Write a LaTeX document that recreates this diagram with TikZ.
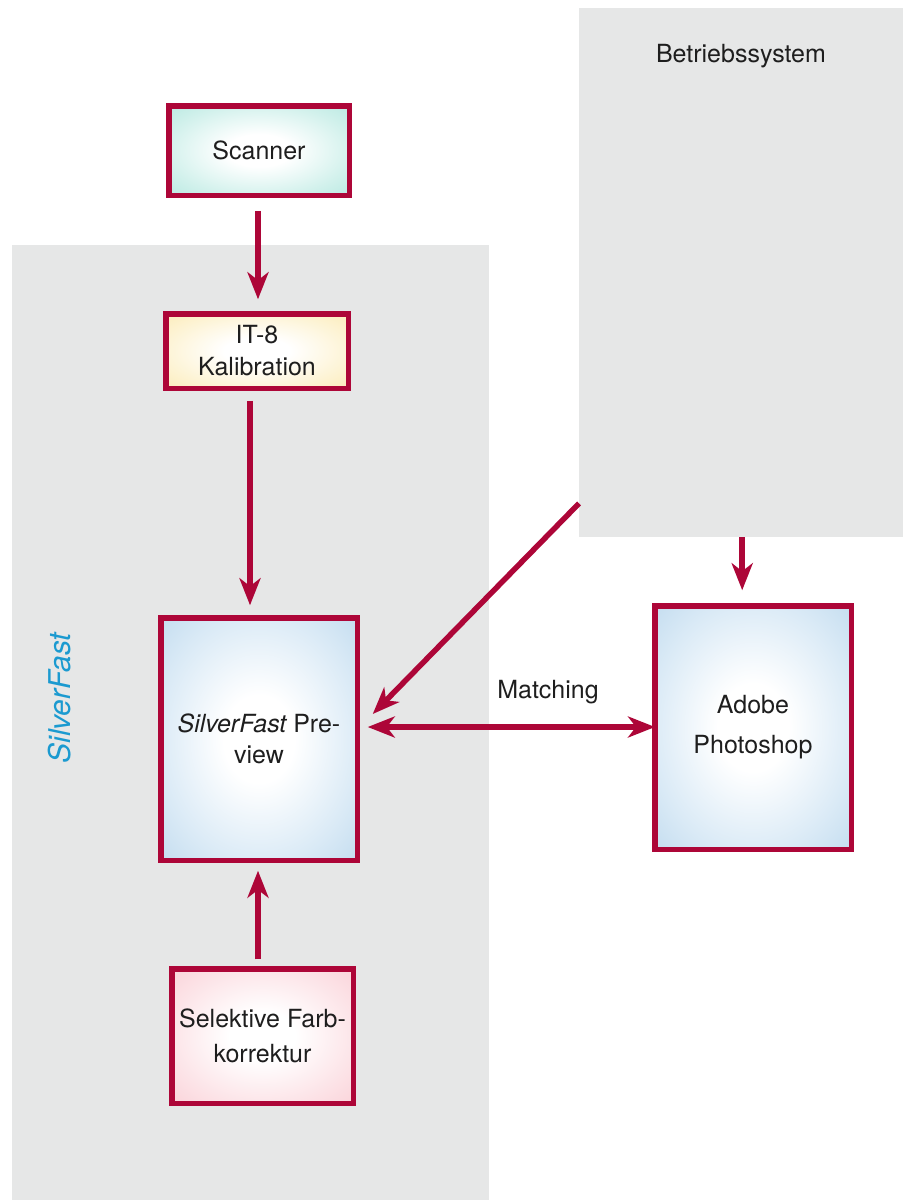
\documentclass[tikz,border=0pt]{standalone}
\usepackage{fontspec}
\setmainfont{TeX Gyre Heros}
\usetikzlibrary{arrows.meta}
\definecolor{crim}{HTML}{AD0638}
\definecolor{panel}{HTML}{E6E7E7}
\definecolor{txt}{HTML}{1E1E1E}
\definecolor{sfblue}{HTML}{1B9AD0}
\definecolor{tealfull}{HTML}{9ADDD3}
\definecolor{tealmid}{HTML}{B5E8E0}
\definecolor{teallite}{HTML}{D2F1EC}
\definecolor{yellfull}{HTML}{F7E09A}
\definecolor{yellmid}{HTML}{FBEAB5}
\definecolor{yelllite}{HTML}{FDF3D3}
\definecolor{bluefull}{HTML}{A0C8E5}
\definecolor{bluemid}{HTML}{BFDAEE}
\definecolor{bluelite}{HTML}{DAEAF6}
\definecolor{pinkfull}{HTML}{F7BDC7}
\definecolor{pinkmid}{HTML}{FAD0D7}
\definecolor{pinklite}{HTML}{FCE3E7}
\pgfdeclareradialshading{tealglow}{\pgfpoint{0bp}{0bp}}{color(0bp)=(white); color(9bp)=(white); color(26bp)=(teallite); color(38bp)=(tealmid); color(50bp)=(tealfull)}
\pgfdeclareradialshading{yellglow}{\pgfpoint{0bp}{0bp}}{color(0bp)=(white); color(9bp)=(white); color(26bp)=(yelllite); color(38bp)=(yellmid); color(50bp)=(yellfull)}
\pgfdeclareradialshading{blueglow}{\pgfpoint{0bp}{0bp}}{color(0bp)=(white); color(9bp)=(white); color(26bp)=(bluelite); color(38bp)=(bluemid); color(50bp)=(bluefull)}
\pgfdeclareradialshading{pinkglow}{\pgfpoint{0bp}{0bp}}{color(0bp)=(white); color(9bp)=(white); color(26bp)=(pinklite); color(38bp)=(pinkmid); color(50bp)=(pinkfull)}
\begin{document}
\begin{tikzpicture}[x=1pt,y=-1pt,
  panelbox/.style={fill=panel, draw=none, inner sep=0pt, anchor=north west},
  box/.style={draw=crim, line width=5.5pt, inner sep=0pt, align=center, text=txt, shade},
  lbl/.style={text=txt, inner sep=0pt},
  conn/.style={draw=crim, line width=5.5pt},
  >={Stealth[length=27pt,width=21pt,inset=8pt]}]
\useasboundingbox (0,0) rectangle (909,1200);
% panels
\node[panelbox, minimum width=477pt, minimum height=955pt] (sfpanel) at (12,245) {};
\node[panelbox, minimum width=324pt, minimum height=529pt] (os) at (579,8) {};
\node[lbl, font=\fontsize{25}{30}\selectfont] (ostitle) at (741,56) {Betriebssystem};
\node[rotate=90, text=sfblue, inner sep=0pt, font=\fontsize{30}{32}\selectfont\itshape] (sflabel) at (60,698) {SilverFast};
% boxes
\node[box, shading=tealglow, minimum width=180.5pt, minimum height=89.5pt, font=\fontsize{25}{30}\selectfont] (scanner) at (259,150.5) {Scanner};
\node[box, shading=yellglow, minimum width=182.5pt, minimum height=74.5pt, font=\fontsize{25}{32}\selectfont] (it8) at (257,351) {IT-8\\Kalibration};
\node[box, shading=blueglow, minimum width=196.5pt, minimum height=242.5pt, font=\fontsize{25}{31}\selectfont] (preview) at (259,739) {{\itshape SilverFast} Pre-\\view};
\node[box, shading=blueglow, minimum width=196.5pt, minimum height=243.5pt, font=\fontsize{25}{40}\selectfont] (photoshop) at (753,727.5) {Adobe\\Photoshop};
\node[box, shading=pinkglow, minimum width=181.5pt, minimum height=134.5pt, font=\fontsize{25}{35}\selectfont] (selektive) at (262.5,1036) {Selektive Farb-\\korrektur};
% connectors
\draw[conn, ->, shorten <=12.75pt, shorten >=11.75pt] ([xshift=-1pt]scanner.south) -- ([xshift=-1pt]scanner.south |- it8.north);
\draw[conn, ->, shorten <=9.75pt, shorten >=9.75pt] ([xshift=-7pt]it8.south) -- ([xshift=-7pt]it8.south |- preview.north);
\draw[conn, ->, shorten <=6.75pt, shorten >=7.75pt] ([xshift=-4.5pt]selektive.north) -- ([xshift=-4.5pt]selektive.north |- preview.south);
\draw[conn, ->, shorten >=12.75pt] ([xshift=1pt]os.south) -- ([xshift=1pt]os.south |- photoshop.north);
\draw[conn, ->] ([yshift=34pt]os.south west) -- ([xshift=12.75pt,yshift=25pt]preview.east);
\draw[conn, <->, shorten >=4.75pt] ([xshift=7.75pt,yshift=12pt]preview.east) -- ([xshift=7.75pt,yshift=12pt]preview.east -| photoshop.west);
\node[lbl, font=\fontsize{25}{30}\selectfont] (matching) at (548,692) {Matching};
\end{tikzpicture}
\end{document}
